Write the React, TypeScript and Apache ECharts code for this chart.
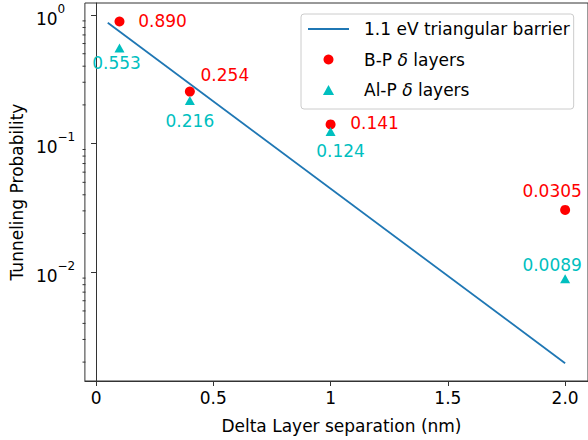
import React, { useEffect, useRef } from "react";
import * as echarts from "echarts";

// ---- data ----
const lineX = [0.05, 2.0];
const lineY = [0.87, 0.00196];
const layerX = [0.1, 0.4, 1.0, 2.0];
const bpValues = [0.89, 0.254, 0.141, 0.0305];
const bpLabels = ["0.890", "0.254", "0.141", "0.0305"];
const alpValues = [0.553, 0.216, 0.124, 0.0089];
const alpLabels = ["0.553", "0.216", "0.124", "0.0089"];
const xTicks = [0, 0.5, 1, 1.5, 2];
const xTickLabels = ["0", "0.5", "1", "1.5", "2.0"];
const yTicks = [0.01, 0.1, 1];
const yMinorTicks = [
  0.002, 0.003, 0.004, 0.005, 0.006, 0.007, 0.008, 0.009,
  0.02, 0.03, 0.04, 0.05, 0.06, 0.07, 0.08, 0.09,
  0.2, 0.3, 0.4, 0.5, 0.6, 0.7, 0.8, 0.9,
];
const seriesNames = ["1.1 eV triangular barrier", "B-P δ layers", "Al-P δ layers"];

// ---- layout / style ----
const X_MIN = -0.0475;
const X_MAX = 2.0975;
const Y_MIN = 0.001426;
const Y_MAX = 1.24;
const FONT = "DejaVu Sans";
const FS = 17;
const bpOffsets = [[43, -1], [35, -17], [44, -1], [-13, -19]];
const alpOffsets = [[-3, 15], [0, 20], [10, 19], [-13, -14]];
const AXIS_COLOR = "#333333";
const LINE_COLOR = "#1f77b4";
const RED = "#ff0000";
const CYAN = "#00bfbf";

export default function App() {
  const ref = useRef<HTMLDivElement>(null);
  useEffect(() => {
    if (!ref.current) return;
    const chart = echarts.init(ref.current, null, { renderer: "svg" });
    const supFmt = (v: number) => {
      const e = Math.round(Math.log10(v));
      const s = e < 0 ? "\u2212" + -e : String(e);
      return `{b|10}{s|${s}}`;
    };
    const option: any = {
      animation: false,
      backgroundColor: "#ffffff",
      textStyle: { fontFamily: FONT },
      grid: {
        left: 84,
        top: 3,
        width: 506,
        height: 378,
        show: true,
        borderColor: AXIS_COLOR,
        borderWidth: 1,
        containLabel: false,
      },
      legend: {
        orient: "vertical",
        left: 301,
        top: 14,
        padding: [5, 4, 9, 7],
        itemWidth: 41,
        itemHeight: 10,
        itemGap: 10.5,
        symbolKeepAspect: true,
        borderColor: "#cccccc",
        borderWidth: 1,
        borderRadius: 3,
        backgroundColor: "rgba(255,255,255,0.8)",
        data: [
          { name: seriesNames[0], icon: "path://M0,0 H41 V1.8 H0 Z", itemStyle: { color: LINE_COLOR } },
          { name: seriesNames[1], icon: "circle" },
          { name: seriesNames[2], icon: "path://M5,0 L10,9 L0,9 Z" },
        ],
        formatter: (name: string) => name.replace("δ", "{i|δ}"),
        textStyle: {
          fontFamily: FONT,
          fontSize: FS,
          color: "#000",
          lineHeight: 20,
          padding: [0, 0, 0, 10],
          rich: {
            i: { fontFamily: FONT, fontSize: FS, fontStyle: "italic", color: "#000", lineHeight: 20 },
          },
        },
      },
      xAxis: {
        type: "value",
        min: X_MIN,
        max: X_MAX,
        splitLine: { show: false },
        axisLine: { show: true, lineStyle: { color: AXIS_COLOR } },
        axisTick: { show: true, length: 5, customValues: xTicks, lineStyle: { color: AXIS_COLOR } },
        axisLabel: {
          customValues: xTicks,
          margin: 8,
          fontFamily: FONT,
          fontSize: FS,
          color: "#000",
          formatter: (v: number) => {
            const i = xTicks.findIndex((t) => Math.abs(t - v) < 1e-9);
            return i >= 0 ? xTickLabels[i] : "";
          },
        },
        name: "Delta Layer separation (nm)",
        nameLocation: "middle",
        nameGap: 36,
        nameTextStyle: { fontFamily: FONT, fontSize: FS, color: "#000", padding: [0, 0, 0, 10] },
      },
      yAxis: {
        type: "log",
        logBase: 10,
        min: Y_MIN,
        max: Y_MAX,
        splitLine: { show: false },
        axisLine: { show: true, lineStyle: { color: AXIS_COLOR } },
        axisTick: { show: true, length: 5, customValues: yTicks, lineStyle: { color: AXIS_COLOR } },
        axisLabel: {
          customValues: yTicks,
          margin: 49,
          align: "left",
          formatter: supFmt,
          rich: {
            b: { fontFamily: FONT, fontSize: FS, color: "#000", padding: [7, 0, 0, 0] },
            s: { fontFamily: FONT, fontSize: 12, color: "#000", padding: [0, 0, 13, 0] },
          },
        },
        name: "Tunneling Probability",
        nameLocation: "middle",
        nameGap: 57,
        nameRotate: 90,
        nameTextStyle: { fontFamily: FONT, fontSize: FS, color: "#000" },
      },
      series: [
        {
          name: seriesNames[0],
          type: "line",
          symbol: "none",
          data: lineX.map((x, i) => [x, lineY[i]]),
          lineStyle: { color: LINE_COLOR, width: 1.8 },
          itemStyle: { color: LINE_COLOR },
          z: 2,
        },
        {
          name: seriesNames[1],
          type: "scatter",
          symbol: "circle",
          symbolSize: 10,
          itemStyle: { color: RED, opacity: 1 },
          data: layerX.map((x, i) => ({
            value: [x, bpValues[i]],
            label: { offset: bpOffsets[i] },
          })),
          label: {
            show: true,
            position: "inside",
            fontFamily: FONT,
            fontSize: FS,
            color: RED,
            formatter: (p: any) => bpLabels[p.dataIndex],
          },
          z: 3,
        },
        {
          name: seriesNames[2],
          type: "scatter",
          symbol: "triangle",
          symbolSize: [10, 9],
          itemStyle: { color: CYAN, opacity: 1 },
          data: layerX.map((x, i) => ({
            value: [x, alpValues[i]],
            label: { offset: alpOffsets[i] },
          })),
          label: {
            show: true,
            position: "inside",
            fontFamily: FONT,
            fontSize: FS,
            color: CYAN,
            formatter: (p: any) => alpLabels[p.dataIndex],
          },
          z: 3,
        },
        {
          name: "minorTicks",
          type: "custom",
          silent: true,
          data: yMinorTicks.map((v) => [X_MIN, v]),
          renderItem: (params: any, api: any) => {
            const p = api.coord([api.value(0), api.value(1)]);
            const x = Math.round(p[0]) + 0.5;
            return {
              type: "line",
              shape: { x1: x - 3, y1: p[1], x2: x, y2: p[1] },
              style: { stroke: AXIS_COLOR, lineWidth: 1 },
            };
          },
          z: 1,
        },
      ],
    };
    chart.setOption(option);
    return () => chart.dispose();
  }, []);
  return (
    <div
      ref={ref}
      style={{ position: "fixed", left: 0, top: 0, width: 588, height: 440, background: "#fff" }}
    />
  );
}
